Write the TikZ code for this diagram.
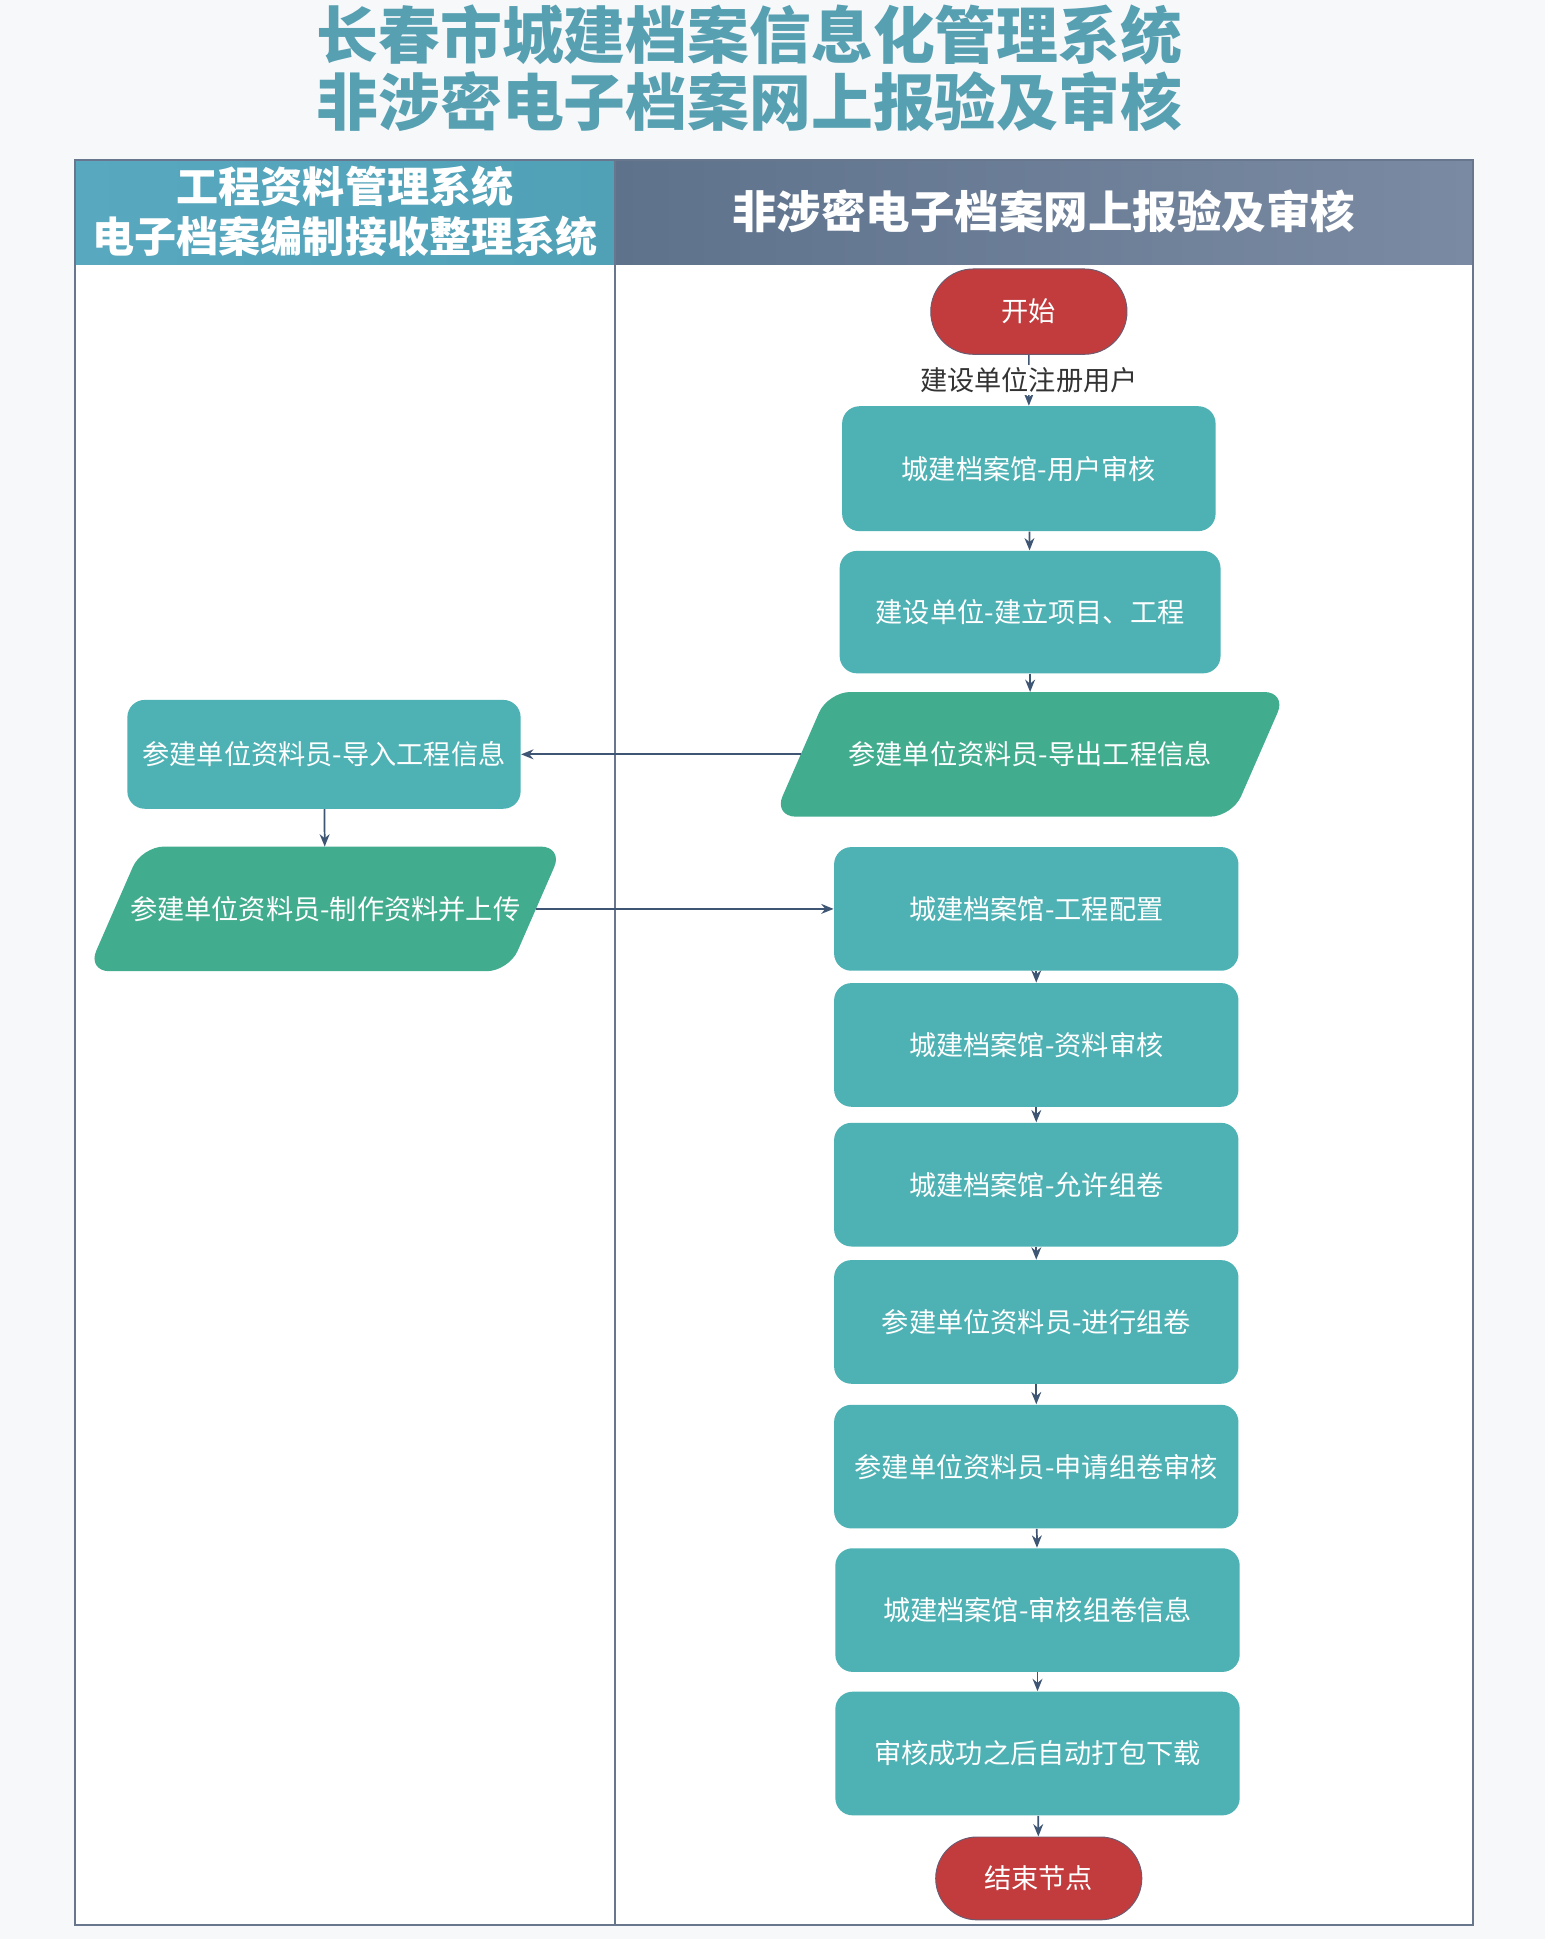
\documentclass[tikz,border=0pt]{standalone}
\usepackage{fontspec}
\usepackage{xcolor}
\usetikzlibrary{arrows.meta,shapes.misc,backgrounds}
\newfontfamily\cjk{Noto Sans CJK SC}
\definecolor{titleblue}{RGB}{86,160,178}
\definecolor{laneleft}{RGB}{88,168,192}
\definecolor{laneleftB}{RGB}{80,160,182}
\definecolor{laneright}{RGB}{94,114,140}
\definecolor{lanerightB}{RGB}{122,138,162}
\definecolor{boxteal}{RGB}{78,178,180}
\definecolor{slantgreen}{RGB}{66,172,142}
\definecolor{startred}{RGB}{194,60,62}
\definecolor{startedge}{RGB}{110,90,110}
\definecolor{arrowblue}{RGB}{62,86,116}
\definecolor{framegray}{RGB}{104,118,142}
\definecolor{pagegray}{RGB}{247,248,250}
% parallelogram behind a node
\newcommand{\slantback}[1]{\fill[slantgreen, rounded corners=9pt] ([xshift=-11pt]#1.south west) -- ([xshift=-11pt]#1.south east) -- ([xshift=11pt]#1.north east) -- ([xshift=11pt]#1.north west) -- cycle;}

\begin{document}
\begin{tikzpicture}[x=0.5pt, y=-0.5pt,
    box/.style={rectangle, rounded corners=7pt, fill=boxteal, text=white, minimum width=163.5pt, minimum height=50pt, align=center, font=\cjk\fontsize{11}{13}\selectfont},
    slant/.style={rectangle, text=white, minimum height=50pt, inner xsep=0pt, align=center, font=\cjk\fontsize{11}{13}\selectfont},
    terminal/.style={rounded rectangle, fill=startred, draw=startedge, text=white, minimum width=86pt, minimum height=34.5pt, font=\cjk\fontsize{11}{13}\selectfont},
    lanehead/.style={rectangle, text=white, align=center, inner sep=0pt, font=\cjk\bfseries\fontsize{17}{19}\selectfont},
    arrow/.style={-{Stealth[length=5pt, width=4pt]}, draw=arrowblue, line width=0.7pt}
]
    \useasboundingbox (0,0) rectangle (1249,1568);

    % Lanes
    \begin{scope}[on background layer]
        \fill[pagegray] (0,0) rectangle (1249,1568);
        \fill[white] (61,214) rectangle (1191,1557);
        \shade[left color=laneleft, right color=laneleftB] (61,129) rectangle (497,214);
        \shade[left color=laneright, right color=lanerightB] (497,129) rectangle (1191,214);
        \draw[framegray, line width=0.8pt] (61,129) rectangle (1191,1557);
        \draw[framegray, line width=0.8pt] (497,129) -- (497,1557);
    \end{scope}

    % Title
    \node[font=\cjk\bfseries\fontsize{25}{27}\selectfont, text=titleblue, align=center] (title) at (606,55) {长春市城建档案信息化管理系统\\非涉密电子档案网上报验及审核};
    \node[lanehead] (headleft) at (279,171) {工程资料管理系统\\[1pt]电子档案编制接收整理系统};
    \node[lanehead, font=\cjk\bfseries\fontsize{18}{20}\selectfont] (headright) at (844,171) {非涉密电子档案网上报验及审核};

    % Nodes
    \node[terminal] (start) at (832,252) {开始};
    \node[box, minimum width=151pt, minimum height=50.5pt] (useraudit) at (832,379) {城建档案馆-用户审核};
    \node[box, minimum width=154pt, minimum height=49.5pt] (project) at (833,495) {建设单位-建立项目、工程};
    \node[slant, minimum width=185pt] (export) at (833,610) {参建单位资料员-导出工程信息};
    \node[box, minimum width=159pt, minimum height=44pt] (import) at (262,610) {参建单位资料员-导入工程信息};
    \node[slant, minimum width=170pt] (upload) at (263,735) {参建单位资料员-制作资料并上传};
    \node[box] (config) at (838,735) {城建档案馆-工程配置};
    \node[box] (review) at (838,845) {城建档案馆-资料审核};
    \node[box] (allow) at (838,958) {城建档案馆-允许组卷};
    \node[box] (volume) at (838,1069) {参建单位资料员-进行组卷};
    \node[box] (apply) at (838,1186) {参建单位资料员-申请组卷审核};
    \node[box] (check) at (839,1302) {城建档案馆-审核组卷信息};
    \node[box] (pack) at (839,1418) {审核成功之后自动打包下载};
    \node[terminal, minimum width=90pt, minimum height=33.5pt] (finish) at (840,1519) {结束节点};

    \begin{scope}[on background layer]
        \slantback{export}
        \slantback{upload}
    \end{scope}

    % Arrows
    \draw[arrow] (start) -- (useraudit) node[midway, fill=white, inner sep=1pt, text=black!80, font=\cjk\fontsize{11}{13}\selectfont] {建设单位注册用户};
    \draw[arrow] (useraudit) -- (project);
    \draw[arrow] (project) -- (export);
    \draw[arrow] (export) -- (import);
    \draw[arrow] (import) -- (upload);
    \draw[arrow] (upload) -- (config);
    \draw[arrow] (config) -- (review);
    \draw[arrow] (review) -- (allow);
    \draw[arrow] (allow) -- (volume);
    \draw[arrow] (volume) -- (apply);
    \draw[arrow] (apply) -- (check);
    \draw[arrow] (check) -- (pack);
    \draw[arrow] (pack) -- (finish);
\end{tikzpicture}
\end{document}
